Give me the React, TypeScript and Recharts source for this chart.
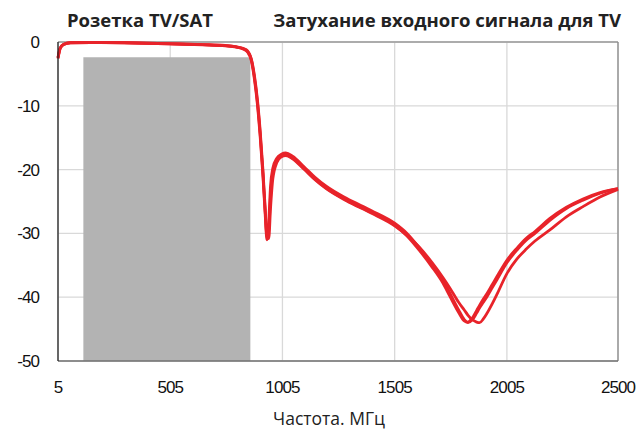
import React from "react";
import {
  LineChart,
  Line,
  XAxis,
  YAxis,
  CartesianGrid,
  ReferenceArea,
  ReferenceLine,
} from "recharts";

// frequency grid, MHz
const freqs = [
  5, 15, 30, 60, 150, 300, 500, 650, 750, 800, 830, 850, 866, 880, 894, 906,
  918, 928, 936, 944, 952, 962, 980, 1000, 1020, 1050, 1100, 1150, 1200, 1290,
  1400, 1505, 1560, 1616, 1670, 1720, 1750, 1790, 1815, 1831, 1850, 1870,
  1883, 1900, 1915, 1940, 1960, 2005, 2050, 2090, 2130, 2195, 2270, 2344,
  2420, 2500,
];

// three measured samples, dB
const lossA = [
  -2.6, -1.0, -0.4, -0.15, -0.1, -0.15, -0.3, -0.45, -0.6, -0.8, -1.1, -1.6,
  -2.9, -5.8, -10, -15, -21, -27, -31, -28, -22.5, -19.8, -18.2, -17.6, -17.4,
  -17.9, -19.5, -21.2, -22.6, -24.5, -26.4, -28.4, -30.0, -32.3, -34.8, -37.3,
  -39.3, -42.0, -43.5, -44.0, -43.6, -42.5, -41.7, -40.8, -40.0, -38.5, -37.3,
  -34.6, -32.6, -31.1, -30.0, -28.0, -26.1, -24.8, -23.7, -23.0,
];
const lossB = [
  -2.4, -0.9, -0.35, -0.1, -0.05, -0.1, -0.25, -0.4, -0.55, -0.75, -1.0, -1.4,
  -2.6, -5.2, -9.2, -14, -20, -26, -30.6, -29.5, -24, -20.6, -18.7, -17.9,
  -17.7, -18.2, -19.8, -21.5, -22.9, -24.8, -26.7, -28.7, -30.4, -32.7,
  -35.2, -37.8, -39.8, -42.4, -43.7, -43.9, -43.3, -42.1, -41.3, -40.3, -39.5,
  -38.0, -36.8, -34.2, -32.3, -30.8, -29.7, -27.7, -25.9, -24.6, -23.6, -23.0,
];
const lossC = [
  -2.5, -0.95, -0.4, -0.12, -0.08, -0.12, -0.28, -0.42, -0.58, -0.78, -1.05,
  -1.5, -2.7, -5.5, -9.6, -14.5, -20.5, -26.5, -30.3, -30.8, -26, -21.5,
  -18.9, -18.0, -17.8, -18.3, -19.9, -21.6, -23.0, -24.9, -26.8, -28.8, -30.3,
  -32.2, -34.5, -36.9, -38.5, -40.8, -42.0, -42.8, -43.5, -43.9, -44.0, -43.4,
  -42.6, -41.0, -39.6, -36.3, -34.0, -32.5, -31.2, -29.5, -27.4, -25.8, -24.3,
  -23.1,
];

const xTicks = [5, 505, 1005, 1505, 2005, 2500];
const yTicks = [0, -10, -20, -30, -40, -50];

// TV band shown as the grey block
const tvBand = { from: 118, to: 862, top: -2.4 };

const data = freqs.map((f, i) => ({
  f,
  a: lossA[i],
  b: lossB[i],
  c: lossC[i],
}));

const red = "#e8232a";
const tickStyle = {
  fill: "#111",
  fontSize: 17,
  fontFamily: "Liberation Sans, Arial, sans-serif",
  letterSpacing: -0.9,
};

export default function App() {
  return (
    <div
      style={{
        position: "absolute",
        left: 0,
        top: 0,
        width: 638,
        height: 432,
        background: "#fff",
      }}
    >
      <div
        style={{
          position: "absolute",
          left: 67,
          top: 7,
          fontFamily: "Open Sans, sans-serif",
          fontWeight: 700,
          fontSize: 18.5,
          color: "#222",
          whiteSpace: "nowrap",
        }}
      >
        Розетка TV/SAT
      </div>
      <div
        style={{
          position: "absolute",
          right: 17,
          top: 7,
          fontFamily: "Open Sans, sans-serif",
          fontWeight: 700,
          fontSize: 18.5,
          color: "#222",
          whiteSpace: "nowrap",
        }}
      >
        Затухание входного сигнала для TV
      </div>

      <LineChart
        width={638}
        height={432}
        data={data}
        margin={{ top: 42, right: 20, bottom: 0, left: 0 }}
      >
        <CartesianGrid stroke="#d9d9d9" strokeWidth={1.3} />
        <ReferenceArea
          x1={tvBand.from}
          x2={tvBand.to}
          y1={-50}
          y2={tvBand.top}
          fill="#b3b3b3"
          fillOpacity={1}
          stroke="none"
        />
        <ReferenceLine y={0} stroke="#9a9a9a" strokeWidth={1.3} />
        <ReferenceLine x={2500} stroke="#8a8a8a" strokeWidth={1.3} />
        <XAxis
          dataKey="f"
          type="number"
          domain={[5, 2500]}
          ticks={xTicks}
          interval={0}
          height={71}
          tickLine={false}
          tickMargin={14}
          axisLine={{ stroke: "#707070", strokeWidth: 1.3 }}
          tick={tickStyle}
        />
        <YAxis
          type="number"
          domain={[-50, 0]}
          ticks={yTicks}
          interval={0}
          width={58}
          tickLine={false}
          tickMargin={13}
          axisLine={{ stroke: "#222", strokeWidth: 1.3 }}
          tick={tickStyle}
        />
        <Line
          dataKey="a"
          type="monotone"
          stroke={red}
          strokeWidth={2.8}
          dot={false}
          isAnimationActive={false}
        />
        <Line
          dataKey="b"
          type="monotone"
          stroke={red}
          strokeWidth={2.8}
          dot={false}
          isAnimationActive={false}
        />
        <Line
          dataKey="c"
          type="monotone"
          stroke={red}
          strokeWidth={2.8}
          dot={false}
          isAnimationActive={false}
        />
      </LineChart>

      <div
        style={{
          position: "absolute",
          left: 0,
          width: 658,
          top: 406,
          textAlign: "center",
          fontFamily: "Open Sans, sans-serif",
          fontSize: 17.5,
          color: "#222",
        }}
      >
        Частота. МГц
      </div>
    </div>
  );
}
